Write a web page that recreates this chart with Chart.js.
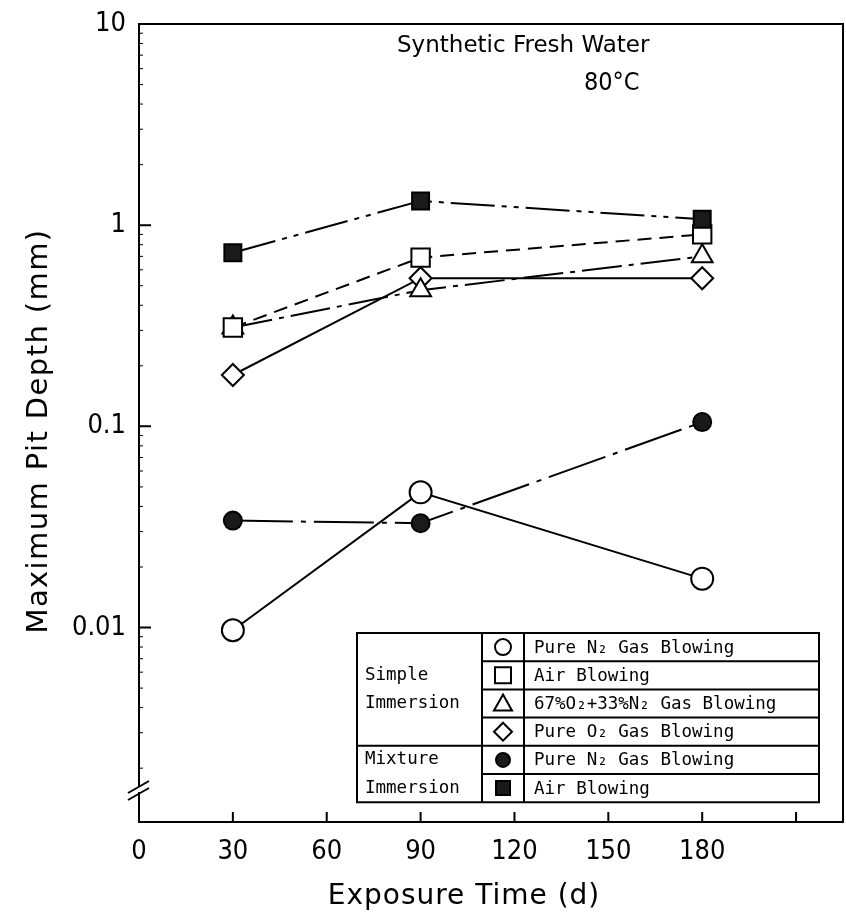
<!DOCTYPE html>
<html>
<head>
<meta charset="utf-8">
<script src="https://cdn.jsdelivr.net/npm/chart.js@4.4.1/dist/chart.umd.min.js"></script>
<style>
  html, body { margin: 0; padding: 0; background: #fff; }
  #wrap { width: 846px; height: 919px; }
</style>
</head>
<body>
<div id="wrap"><canvas id="pitChart" width="846" height="919"></canvas></div>
<script>
// exposure days and maximum pit depth (mm) per condition
const days = [30, 90, 180];
const n2Simple = [0.0097, 0.047, 0.0175];
const airSimple = [0.31, 0.69, 0.9];
const o2n2Simple = [0.31, 0.475, 0.7];
const o2Simple = [0.18, 0.545, 0.545];
const n2Mixture = [0.034, 0.033, 0.105];
const airMixture = [0.73, 1.32, 1.07];

const xTicks = [0, 30, 60, 90, 120, 150, 180, 210];
const yTicks = [0.01, 0.1, 1, 10];

const legendRows = [
  "Pure N₂ Gas Blowing",
  "Air Blowing",
  "67%O₂+33%N₂ Gas Blowing",
  "Pure O₂ Gas Blowing",
  "Pure N₂ Gas Blowing",
  "Air Blowing",
];

const narrow = '"Liberation Sans Narrow", "DejaVu Sans Condensed", sans-serif';
const mono = '"DejaVu Sans Mono", "Liberation Mono", monospace';
const sans = '"DejaVu Sans", "Liberation Sans", sans-serif';

function pts(values) {
  return days.map((d, i) => ({ x: d, y: values[i] }));
}

function series(label, values, style, radius, fill, dash) {
  return {
    label: label,
    data: pts(values),
    borderColor: "#000",
    borderWidth: 2,
    borderDash: dash,
    pointStyle: style,
    pointRadius: radius,
    pointHoverRadius: radius,
    pointBorderWidth: 2,
    pointBorderColor: "#000",
    pointBackgroundColor: fill,
    tension: 0,
  };
}

// datasets listed first are painted on top
const datasets = [
  series("Air Blowing (mixture)", airMixture, "rect", 12, "#1a1a1a", [44, 7, 5, 7, 5, 7]),
  series("Air Blowing", airSimple, "rect", 13, "#fff", [14, 8]),
  series("67%O2+33%N2", o2n2Simple, "triangle", 12, "#fff", [40, 7, 5, 7]),
  series("Pure O2", o2Simple, "rectRot", 11, "#fff", []),
  series("Pure N2 (mixture)", n2Mixture, "circle", 9, "#1a1a1a", [60, 8, 5, 8]),
  series("Pure N2", n2Simple, "circle", 11, "#fff", []),
];

// little marker glyphs for the legend table
function drawSymbol(ctx, kind, cx, cy) {
  ctx.save();
  ctx.lineWidth = 2;
  ctx.strokeStyle = "#000";
  ctx.beginPath();
  if (kind === 0 || kind === 4) {
    ctx.arc(cx, cy, kind === 0 ? 8 : 7, 0, Math.PI * 2);
  } else if (kind === 1 || kind === 5) {
    const s = kind === 1 ? 8 : 7;
    ctx.rect(cx - s, cy - s, 2 * s, 2 * s);
  } else if (kind === 2) {
    ctx.moveTo(cx, cy - 9);
    ctx.lineTo(cx + 9, cy + 7);
    ctx.lineTo(cx - 9, cy + 7);
    ctx.closePath();
  } else {
    ctx.moveTo(cx, cy - 9);
    ctx.lineTo(cx + 9, cy);
    ctx.lineTo(cx, cy + 9);
    ctx.lineTo(cx - 9, cy);
    ctx.closePath();
  }
  ctx.fillStyle = kind >= 4 ? "#1a1a1a" : "#fff";
  ctx.fill();
  ctx.stroke();
  ctx.restore();
}

const framePlugin = {
  id: "frame",
  afterDraw(chart) {
    const { ctx, chartArea: a, scales } = chart;
    const x = scales.x;
    const y = scales.y;
    ctx.save();
    ctx.strokeStyle = "#000";
    ctx.lineWidth = 2;

    // top and right edges
    ctx.beginPath();
    ctx.moveTo(a.left, a.top);
    ctx.lineTo(a.right, a.top);
    ctx.lineTo(a.right, a.bottom);
    ctx.stroke();

    // inward ticks on the x axis
    ctx.beginPath();
    xTicks.forEach((v) => {
      if (v === 0) return;
      const px = x.getPixelForValue(v);
      ctx.moveTo(px, a.bottom);
      ctx.lineTo(px, a.bottom - 10);
    });
    // inward ticks on the y axis, long at decades and short in between
    yTicks.forEach((v) => {
      const py = y.getPixelForValue(v);
      ctx.moveTo(a.left, py);
      ctx.lineTo(a.left + 12, py);
    });
    ctx.stroke();
    ctx.lineWidth = 1;
    ctx.beginPath();
    [0.001, 0.01, 0.1, 1].forEach((dec) => {
      for (let k = 2; k <= 9; k++) {
        const v = dec * k;
        if (v < y.min || v > y.max) continue;
        const py = y.getPixelForValue(v);
        ctx.moveTo(a.left, py);
        ctx.lineTo(a.left + 4, py);
      }
    });
    ctx.stroke();

    // axis break near the bottom of the y axis
    ctx.fillStyle = "#fff";
    ctx.fillRect(a.left - 3, 786, 6, 6);
    ctx.lineWidth = 2;
    ctx.beginPath();
    ctx.moveTo(a.left - 11, 793);
    ctx.lineTo(a.left + 10, 781);
    ctx.moveTo(a.left - 11, 800);
    ctx.lineTo(a.left + 10, 788);
    ctx.stroke();

    // axis titles
    ctx.fillStyle = "#000";
    ctx.textBaseline = "middle";
    ctx.textAlign = "center";
    ctx.font = "28px " + sans;
    ctx.letterSpacing = "1px";
    ctx.fillText("Exposure Time (d)", 464, 897);
    ctx.save();
    ctx.translate(39, 431);
    ctx.rotate(-Math.PI / 2);
    ctx.font = "29px " + sans;
    ctx.letterSpacing = "1.4px";
    ctx.fillText("Maximum Pit Depth (mm)", 0, 0);
    ctx.restore();
    ctx.letterSpacing = "0px";

    // condition notes
    ctx.textAlign = "left";
    ctx.font = "23px " + sans;
    ctx.fillText("Synthetic Fresh Water", 397, 46);
    ctx.font = "25px " + narrow;
    ctx.fillText("80°C", 584, 83);

    // legend table
    const L = 357, C1 = 482, C2 = 524, R = 819, T = 633, rowH = 28.2;
    const B = T + rowH * 6;
    ctx.fillStyle = "#fff";
    ctx.fillRect(L, T, R - L, B - T);
    ctx.lineWidth = 2;
    ctx.beginPath();
    ctx.rect(L, T, R - L, B - T);
    ctx.moveTo(C1, T);
    ctx.lineTo(C1, B);
    ctx.moveTo(C2, T);
    ctx.lineTo(C2, B);
    for (let i = 1; i < 6; i++) {
      const ry = T + rowH * i;
      ctx.moveTo(i === 4 ? L : C1, ry);
      ctx.lineTo(R, ry);
    }
    ctx.stroke();

    ctx.fillStyle = "#000";
    ctx.font = "17.5px " + mono;
    ctx.textAlign = "left";
    legendRows.forEach((txt, i) => {
      const cy = T + rowH * (i + 0.5);
      drawSymbol(ctx, i, (C1 + C2) / 2, cy);
      ctx.fillStyle = "#000";
      ctx.fillText(txt, C2 + 10, cy + 1);
    });
    ctx.fillText("Simple", L + 8, T + rowH * 1.5);
    ctx.fillText("Immersion", L + 8, T + rowH * 2.5);
    ctx.fillText("Mixture", L + 8, T + rowH * 4.5);
    ctx.fillText("Immersion", L + 8, T + rowH * 5.5);
    ctx.restore();
  },
};

new Chart(document.getElementById("pitChart"), {
  type: "line",
  data: { datasets: datasets },
  options: {
    responsive: false,
    animation: false,
    layout: {
      autoPadding: false,
      padding: { top: 24, right: 3, left: 0, bottom: 0 },
    },
    plugins: {
      legend: { display: false },
      tooltip: { enabled: false },
    },
    scales: {
      x: {
        type: "linear",
        min: 0,
        max: 225,
        afterBuildTicks: (scale) => {
          scale.ticks = xTicks.map((v) => ({ value: v }));
        },
        afterFit: (scale) => {
          scale.height = 97;
          scale.paddingLeft = 0;
          scale.paddingRight = 0;
        },
        grid: { display: false },
        border: { display: true, color: "#000", width: 2 },
        ticks: {
          autoSkip: false,
          maxRotation: 0,
          padding: 6,
          color: "#000",
          font: { family: narrow, size: 27 },
          callback: (v) => (v <= 180 ? String(v) : ""),
        },
      },
      y: {
        type: "logarithmic",
        min: 0.00108,
        max: 10,
        afterBuildTicks: (scale) => {
          scale.ticks = yTicks.map((v) => ({ value: v }));
        },
        afterFit: (scale) => {
          scale.width = 139;
          scale.paddingTop = 0;
          scale.paddingBottom = 0;
        },
        grid: { display: false },
        border: { display: true, color: "#000", width: 2 },
        ticks: {
          padding: 5,
          color: "#000",
          font: { family: narrow, size: 27 },
          callback: (v) => String(v),
        },
      },
    },
  },
  plugins: [framePlugin],
});
</script>
</body>
</html>
